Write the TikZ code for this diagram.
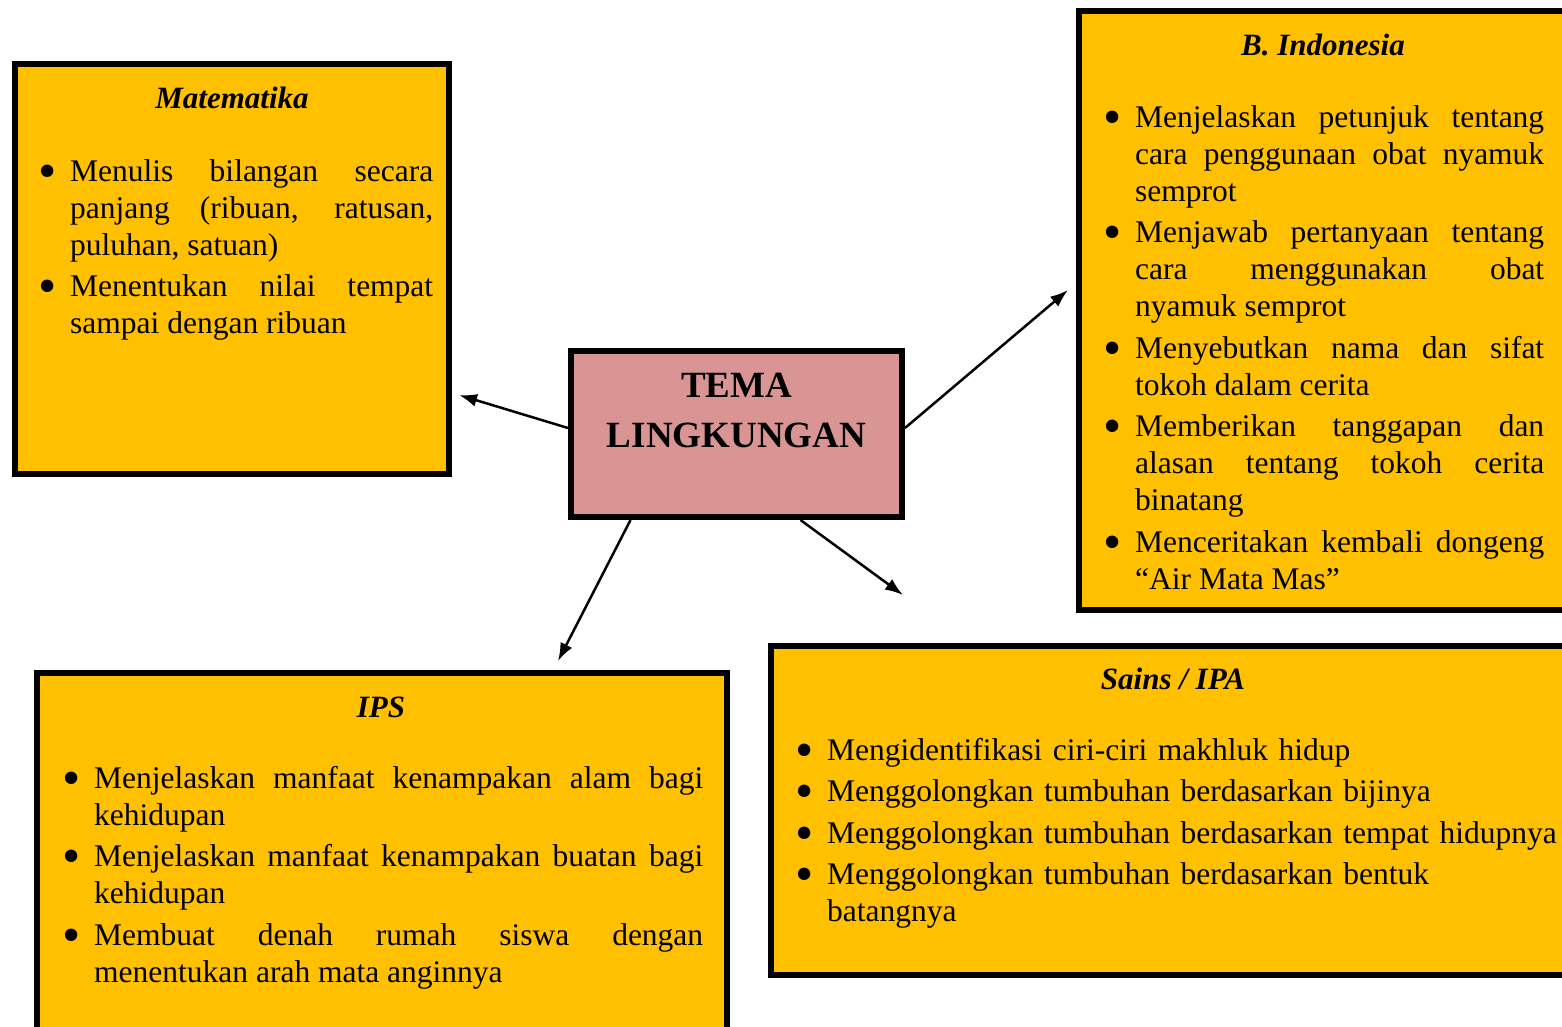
\documentclass[tikz,border=0pt]{standalone}
\usepackage{fontspec}
\setmainfont{Liberation Serif}
\usepackage{graphicx}
\usepackage{tikz}
\usetikzlibrary{arrows.meta}
\definecolor{kuning}{HTML}{FFC000}
\definecolor{merahmuda}{HTML}{D99594}
\tikzstyle{panel}=[draw,line width=6pt,fill=kuning,inner sep=0pt]
\tikzstyle{tema}=[draw,line width=6pt,fill=merahmuda,inner sep=0pt,minimum width=331pt,minimum height=166pt]
\tikzstyle{judul}=[anchor=base,inner sep=0pt,font=\fontsize{31}{36}\selectfont\bfseries\itshape]
\tikzstyle{isi}=[anchor=base west,inner sep=0pt,font=\fontsize{31.5}{37}\selectfont]
\tikzstyle{panah}=[line width=2.5pt,-{Latex[length=18pt,width=13pt]}]
% butir pertama tanpa \par, butir berikutnya dengan \par
\newcommand{\butirawal}{\setlength{\parskip}{4.5pt}\hangindent=32pt\hangafter=1\noindent\makebox[32pt][l]{\smash{\raisebox{-7pt}{\scalebox{1.65}{\textbullet}}}}\ignorespaces}
\newcommand{\butir}{\par\butirawal}
\hyphenpenalty=10000
\exhyphenpenalty=10000

\begin{document}
\begin{tikzpicture}[x=1pt,y=-1pt]
          \useasboundingbox (0,0) rectangle (1562,1026);

          % kotak
          \node[panel,minimum width=434pt,minimum height=410pt] at (232,269) (mat) {};
          \node[panel,minimum width=488pt,minimum height=599pt] at (1323,310.5) (bind) {};
          \node[panel,minimum width=804pt,minimum height=329pt] at (1173,810.5) (ipa) {};
          \node[panel,minimum width=690pt,minimum height=370pt] at (382,858) (ips) {};
          \node[tema] at (736.5,434) (tema) {};

          \node[anchor=base,inner sep=0pt,text width=331pt,align=center,font=\fontsize{37}{50}\selectfont\bfseries] at (736.5,397) (temaTeks) {TEMA\\LINGKUNGAN};

          % judul
          \node[judul] at (232,108) (matJudul) {Matematika};
          \node[judul] at (1323,55) (bindJudul) {B. Indonesia};
          \node[judul] at (1173,689) (ipaJudul) {Sains / IPA};
          \node[judul] at (381,717) (ipsJudul) {IPS};

          % isi
          \node[isi,text width=395pt,align=justify] at (38,181) (matIsi) {\butirawal Menulis bilangan secara\linebreak panjang (ribuan, ratusan,\linebreak puluhan, satuan)\butir Menentukan nilai tempat\linebreak sampai dengan ribuan\par};
          \node[isi,text width=441pt,align=justify] at (1103,127) (bindIsi) {\butirawal Menjelaskan petunjuk tentang\linebreak cara penggunaan obat nyamuk\linebreak semprot\butir Menjawab pertanyaan tentang\linebreak cara menggunakan obat\linebreak nyamuk semprot\butir Menyebutkan nama dan sifat\linebreak tokoh dalam cerita\butir Memberikan tanggapan dan\linebreak alasan tentang tokoh cerita\linebreak binatang\butir Menceritakan kembali dongeng\linebreak “Air Mata Mas”\par};
          \node[isi,text width=770pt,align=left] at (795,760) (ipaIsi) {\butirawal Mengidentifikasi ciri-ciri makhluk hidup\butir Menggolongkan tumbuhan berdasarkan bijinya\butir Menggolongkan tumbuhan berdasarkan tempat hidupnya\butir Menggolongkan tumbuhan berdasarkan bentuk\newline batangnya\par};
          \node[isi,text width=641pt,align=justify] at (62,788) (ipsIsi) {\butirawal Menjelaskan manfaat kenampakan alam bagi\linebreak kehidupan\butir Menjelaskan manfaat kenampakan buatan bagi\linebreak kehidupan\butir Membuat denah rumah siswa dengan\linebreak menentukan arah mata anginnya\par};

          % panah
          \coordinate (matUjung) at (459,395);
          \coordinate (bindUjung) at (1068,290);
          \coordinate (ipsUjung) at (558,661);
          \coordinate (ipaUjung) at (903,595);

          \draw[panah] ([yshift=6pt]tema.west) -- (matUjung);
          \draw[panah] ([yshift=6pt]tema.east) -- (bindUjung);
          \draw[panah] ([xshift=-106pt]tema.south) -- (ipsUjung);
          \draw[panah] ([xshift=64pt]tema.south) -- (ipaUjung);
        \end{tikzpicture}
\end{document}
